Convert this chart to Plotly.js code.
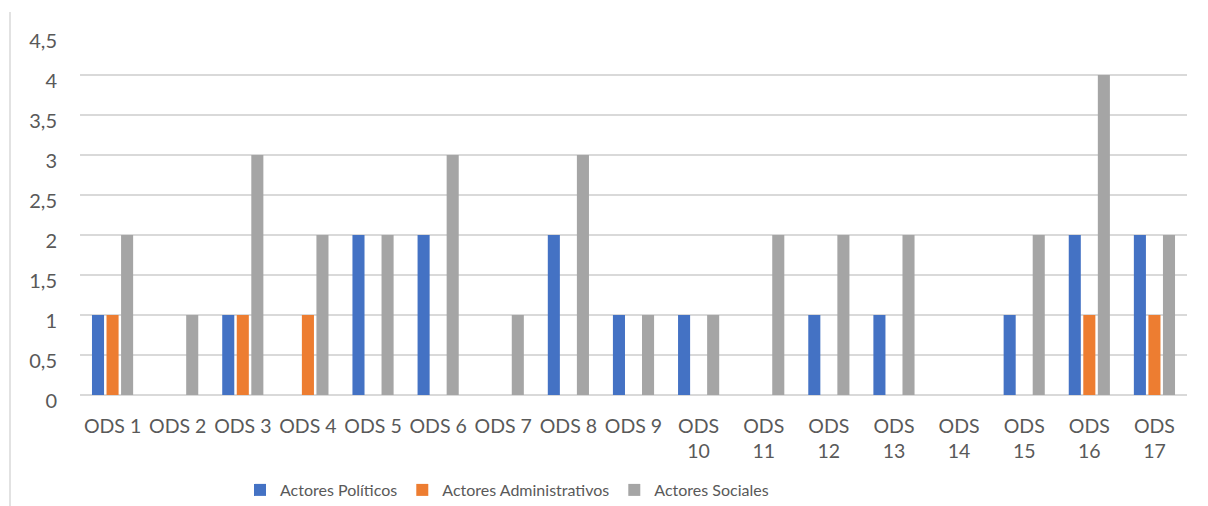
<!DOCTYPE html>
<html>
<head>
<meta charset="utf-8">
<script src="https://cdn.plot.ly/plotly-3.0.1.min.js"></script>
<style>
html,body{margin:0;padding:0;background:#fff;}
#chart{width:1208px;height:506px;}
</style>
</head>
<body>
<div id="chart"></div>
<script>
const categories = ["ODS 1","ODS 2","ODS 3","ODS 4","ODS 5","ODS 6","ODS 7","ODS 8","ODS 9","ODS 10","ODS 11","ODS 12","ODS 13","ODS 14","ODS 15","ODS 16","ODS 17"];
const tickLabels = ["ODS 1","ODS 2","ODS 3","ODS 4","ODS 5","ODS 6","ODS 7","ODS 8","ODS 9","ODS<br>10","ODS<br>11","ODS<br>12","ODS<br>13","ODS<br>14","ODS<br>15","ODS<br>16","ODS<br>17"];
const seriesNames = ["Actores Políticos","Actores Administrativos","Actores Sociales"];
const politicos = [1,0,1,0,2,2,0,2,1,1,0,1,1,0,1,2,2];
const administrativos = [1,0,1,1,0,0,0,0,0,0,0,0,0,0,0,1,1];
const sociales = [2,1,3,2,2,3,1,3,1,1,2,2,2,0,2,4,2];
const colors = ["#4472C4","#ED7D31","#A5A5A5"];
const yTicks = [0,0.5,1,1.5,2,2.5,3,3.5,4,4.5];

const values = [politicos, administrativos, sociales];
const traces = values.map((v,i)=>({
  type:'bar', x:categories, y:v, name:seriesNames[i],
  marker:{color:colors[i]}, hoverinfo:'x+y+name'
}));

const mL=80, mR=21, mT=35, mB=111;
const W=1208, H=506;
const plotW = W-mL-mR, plotH = H-mT-mB;

const layout = {
  width:W, height:H,
  margin:{l:mL,r:mR,t:mT,b:mB,pad:0, autoexpand:false},
  paper_bgcolor:'#fff', plot_bgcolor:'#fff',
  separators:', ',
  font:{family:'Lato, "Open Sans", sans-serif', size:16, color:'#595959'},
  barmode:'group', bargap:0.33, bargroupgap:0.17,
  xaxis:{tickmode:'array', tickvals:categories, ticktext:tickLabels, automargin:false,
    showgrid:false, showline:false, zeroline:false, ticks:'', ticklabelstandoff:17,
    tickfont:{size:19.5,color:'#595959'}, fixedrange:true},
  yaxis:{range:[0,4.5], tickmode:'array', tickvals:yTicks, automargin:false,
    showgrid:true, gridcolor:'#D9D9D9', gridwidth:1.5, zeroline:true, zerolinecolor:'#D9D9D9', zerolinewidth:1.5,
    showline:false, ticks:'', ticklabelstandoff:22, ticklabelshift:6, tickfont:{size:20,color:'#595959'}, fixedrange:true},
  showlegend:true,
  legend:{orientation:'h', x:(507-mL)/plotW, xanchor:'center', yref:'container', y:(H-490)/H, yanchor:'middle',
    font:{size:16,color:'#595959'}, itemclick:false, itemdoubleclick:false, traceorder:'normal'},
  shapes:[{type:'line', xref:'paper', yref:'paper',
    x0:(10-mL)/plotW, x1:(10-mL)/plotW, y0:(mT+plotH-12)/plotH, y1:(mT+plotH-506)/plotH,
    line:{color:'#D9D9D9', width:1.5}}]
};

Plotly.newPlot('chart', traces, layout, {displayModeBar:false, staticPlot:true});
</script>
</body>
</html>
